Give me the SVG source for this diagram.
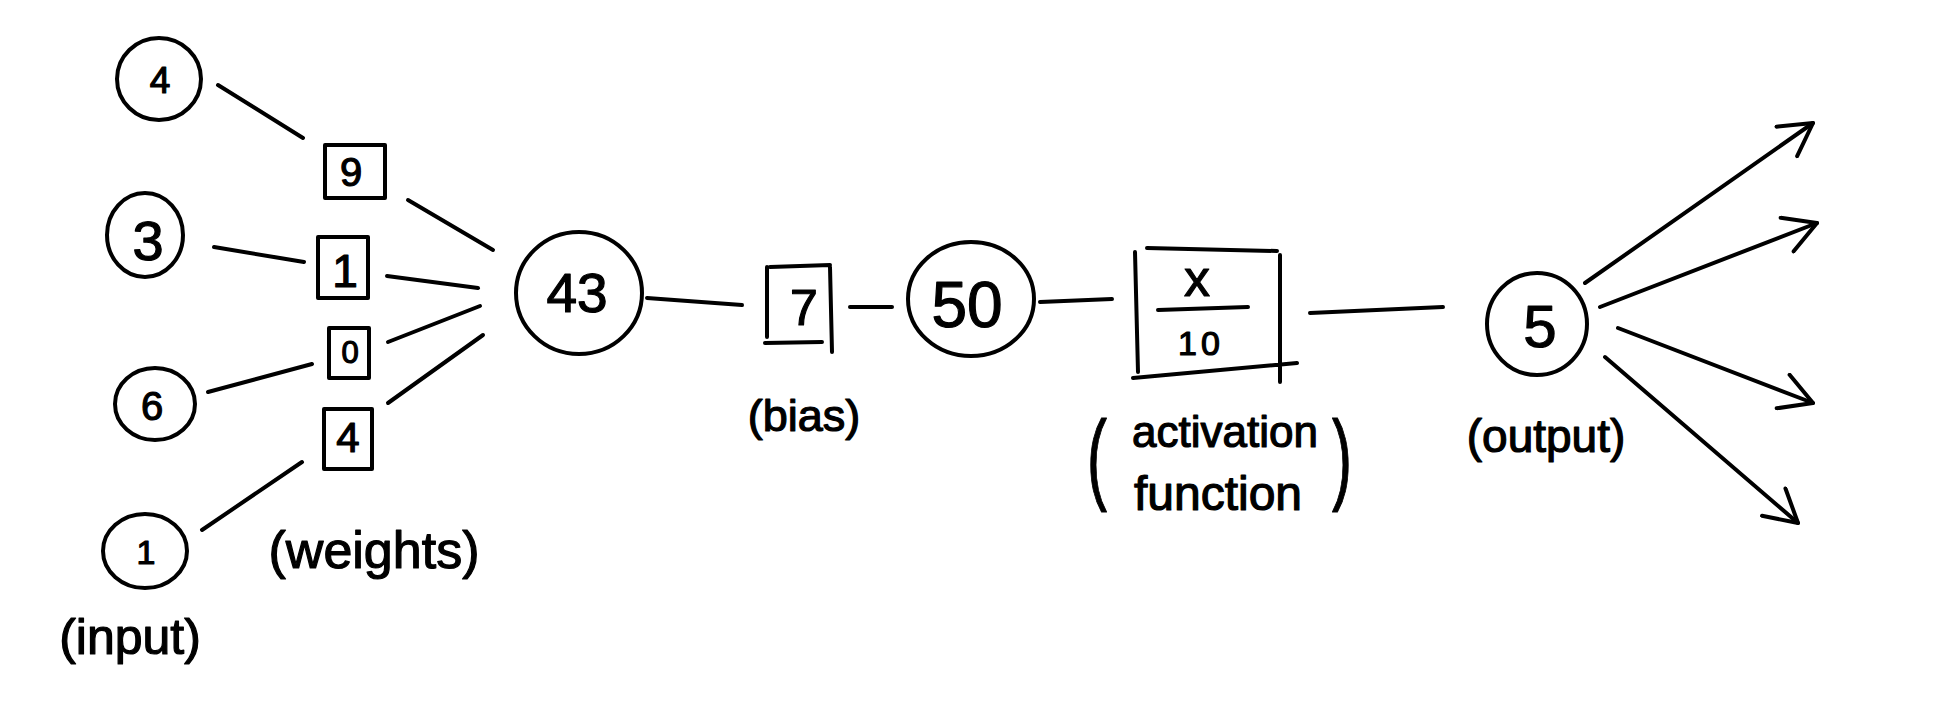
<svg xmlns="http://www.w3.org/2000/svg" width="1934" height="728" viewBox="0 0 1934 728">
<style>
.s{fill:none;stroke:#000;stroke-width:4;stroke-linecap:round;stroke-linejoin:round}
.t{font-family:"Liberation Sans","DejaVu Sans",sans-serif;fill:#000;stroke:#000;stroke-width:1.2;stroke-linejoin:round;text-anchor:middle}
</style>
<defs>
<marker id="ah" viewBox="0 0 20 20" refX="18" refY="10" markerWidth="40" markerHeight="40" markerUnits="userSpaceOnUse" orient="auto">
<path d="M2,1 L18,10 L2,19" fill="none" stroke="#000" stroke-width="2" stroke-linecap="round" stroke-linejoin="round"/>
</marker>
</defs>
<rect width="1934" height="728" fill="#fff"/>

<g id="connectors">
<path class="s" d="M218,85 L303,138"/>
<path class="s" d="M408,200 L493,250"/>
<path class="s" d="M214,247 L304,262"/>
<path class="s" d="M387,276 L478,288"/>
<path class="s" d="M208,392 L312,364"/>
<path class="s" d="M388,342 L480,306"/>
<path class="s" d="M202,530 L302,462"/>
<path class="s" d="M388,403 L483,335"/>
<path class="s" d="M647,298 L742,305"/>
<path class="s" d="M850,307 L892,307"/>
<path class="s" d="M1040,302 L1112,299"/>
<path class="s" d="M1310,313 L1443,307"/>
<path class="s" d="M1585,283 L1813,123" marker-end="url(#ah)"/>
<path class="s" d="M1600,307 L1817,223" marker-end="url(#ah)"/>
<path class="s" d="M1618,328 L1813,403" marker-end="url(#ah)"/>
<path class="s" d="M1605,357 L1798,523" marker-end="url(#ah)"/>
</g>

<g id="in4"><ellipse class="s" cx="159" cy="79" rx="42" ry="41"/><text class="t" x="160" y="93" font-size="37">4</text></g>
<g id="in3"><ellipse class="s" cx="145" cy="235" rx="38" ry="42"/><text class="t" x="148" y="260" font-size="56">3</text></g>
<g id="in6"><ellipse class="s" cx="155" cy="404" rx="40" ry="36"/><text class="t" x="152" y="420" font-size="40">6</text></g>
<g id="in1"><ellipse class="s" cx="145" cy="551" rx="42" ry="37"/><text class="t" x="146" y="564" font-size="34">1</text></g>
<g id="label-input"><text class="t" x="130" y="654" font-size="50">(input)</text></g>

<g id="w9"><rect class="s" x="325" y="145" width="60" height="53"/><text class="t" x="351" y="186" font-size="40">9</text></g>
<g id="w1"><rect class="s" x="318" y="237" width="50" height="61"/><text class="t" x="345" y="287" font-size="46">1</text></g>
<g id="w0"><rect class="s" x="329" y="328" width="40" height="50"/><text class="t" x="350" y="363" font-size="31">0</text></g>
<g id="w4"><rect class="s" x="324" y="409" width="48" height="60"/><text class="t" x="348" y="452" font-size="42">4</text></g>
<g id="label-weights"><text class="t" x="374" y="568" font-size="52">(weights)</text></g>

<g id="sum"><ellipse class="s" cx="579" cy="293" rx="63" ry="61"/><text class="t" x="577" y="312" font-size="55">43</text></g>

<g id="bias"><path class="s" d="M767,267 L767,337 M770,267 L830,265 M830,267 L832,352 M765,343 L822,342"/><text class="t" x="804" y="325" font-size="50">7</text></g>
<g id="label-bias"><text class="t" x="804" y="431" font-size="45">(bias)</text></g>

<g id="total"><ellipse class="s" cx="971" cy="299" rx="63" ry="57"/><text class="t" x="967" y="327" font-size="64">50</text></g>

<g id="activation"><path class="s" d="M1135,252 L1138,372 M1147,248 L1277,251 M1280,255 L1280,382 M1133,378 L1297,363 M1158,310 L1248,307"/><text class="t" x="1197" y="296" font-size="52">x</text><text class="t" x="1201" y="355" font-size="34" letter-spacing="4">10</text></g>
<g id="label-activation"><text class="t" x="1097" y="491" font-size="100" transform="translate(1097 0) scale(0.6 1) translate(-1097 0)">(</text><text class="t" x="1225" y="447" font-size="44">activation</text><text class="t" x="1218" y="510" font-size="48">function</text><text class="t" x="1342" y="491" font-size="100" transform="translate(1342 0) scale(0.6 1) translate(-1342 0)">)</text></g>

<g id="output"><ellipse class="s" cx="1537" cy="324" rx="50" ry="51"/><text class="t" x="1540" y="347" font-size="60">5</text></g>
<g id="label-output"><text class="t" x="1546" y="452" font-size="46">(output)</text></g>
</svg>
